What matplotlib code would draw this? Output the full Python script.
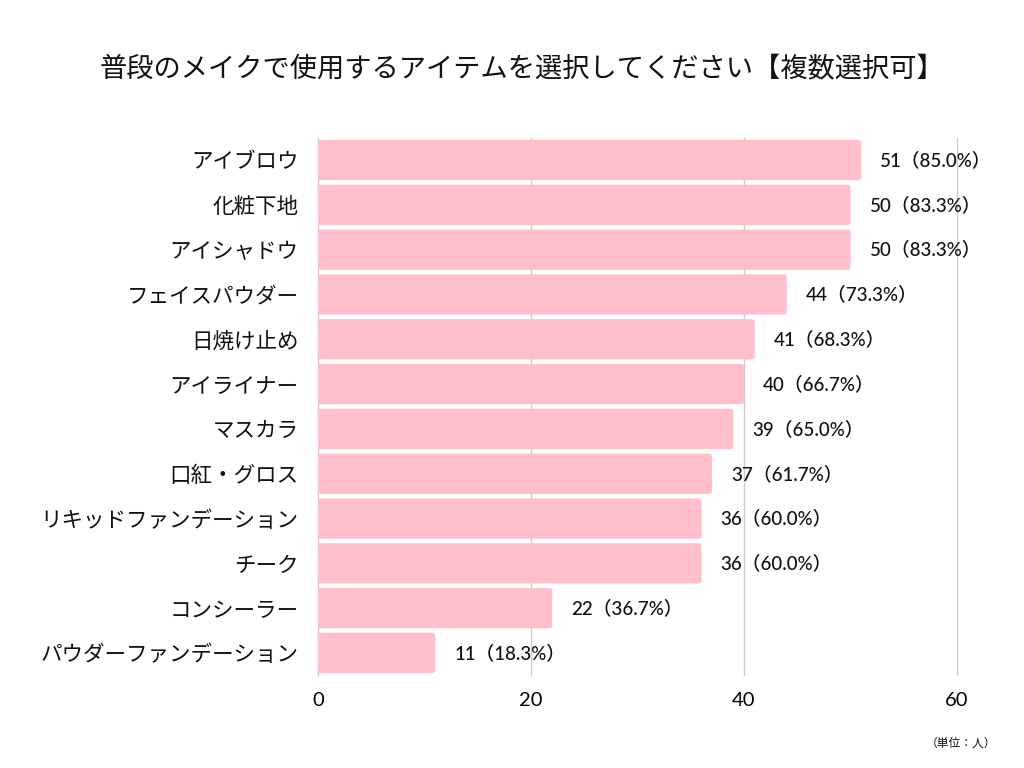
import matplotlib.pyplot as plt
from matplotlib.patches import FancyBboxPatch

plt.rcParams['font.family'] = ['Noto Sans CJK JP', 'DejaVu Sans']

# Data
items = ['アイブロウ', '化粧下地', 'アイシャドウ', 'フェイスパウダー', '日焼け止め',
         'アイライナー', 'マスカラ', '口紅・グロス', 'リキッドファンデーション',
         'チーク', 'コンシーラー', 'パウダーファンデーション']
counts = [51, 50, 50, 44, 41, 40, 39, 37, 36, 36, 22, 11]
percents = [85.0, 83.3, 83.3, 73.3, 68.3, 66.7, 65.0, 61.7, 60.0, 60.0, 36.7, 18.3]
x_ticks = [0, 20, 40, 60]

bar_color = '#FFBFCB'

fig = plt.figure(figsize=(10.24, 7.68), dpi=100)
ax = fig.add_axes([0.3105, 0.1206, 0.6241, 0.7002])

ypos = list(range(len(items)))
bars = ax.barh(ypos, counts, height=0.9, color=bar_color, zorder=2)

# swap plain bars for slightly rounded ones
aspect = (ax.get_position().width * 1024 / 60) ** -1 * (ax.get_position().height * 768 / len(items))
ax.set_xlim(0, 60)
ax.set_ylim(len(items) - 0.5, -0.5)
for b in bars:
    x, y = b.get_x(), b.get_y()
    w, h = b.get_width(), b.get_height()
    b.set_visible(False)
    ax.add_patch(FancyBboxPatch((x, y), w, h,
                                boxstyle='round,pad=0,rounding_size=0.3',
                                mutation_aspect=1 / aspect,
                                facecolor=bar_color, edgecolor='none', zorder=2))

# value labels
for i, (c, p) in enumerate(zip(counts, percents)):
    ax.text(c + 1.8, i, f'{c}（{p:.1f}%）', va='center', ha='left',
            fontsize=13.5, fontweight='medium',
            family=['Lato', 'Noto Sans CJK JP'], color='#111111')

ax.set_yticks(ypos)
ax.set_yticklabels(items, fontsize=15.5, color='#111111')
ax.set_xticks(x_ticks)
ax.set_xticklabels([str(t) for t in x_ticks], fontsize=14.5,
                   family=['Lato', 'Noto Sans CJK JP'])
ax.tick_params(axis='both', length=0)
ax.tick_params(axis='y', pad=14)
ax.tick_params(axis='x', pad=12)

ax.grid(axis='x', color='#CCCCCC', linewidth=1, zorder=0)
ax.set_axisbelow(True)
for g in ax.get_xgridlines():
    g.set_clip_on(False)
for s in ax.spines.values():
    s.set_visible(False)

fig.text(0.510, 0.909, '普段のメイクで使用するアイテムを選択してください【複数選択可】',
         ha='center', va='center', fontsize=19.6, color='#111111')
fig.text(0.938, 0.033, '（単位：人）', ha='center', va='center', fontsize=8.5,
         color='#111111')

fig.savefig('out.png', dpi=100)
